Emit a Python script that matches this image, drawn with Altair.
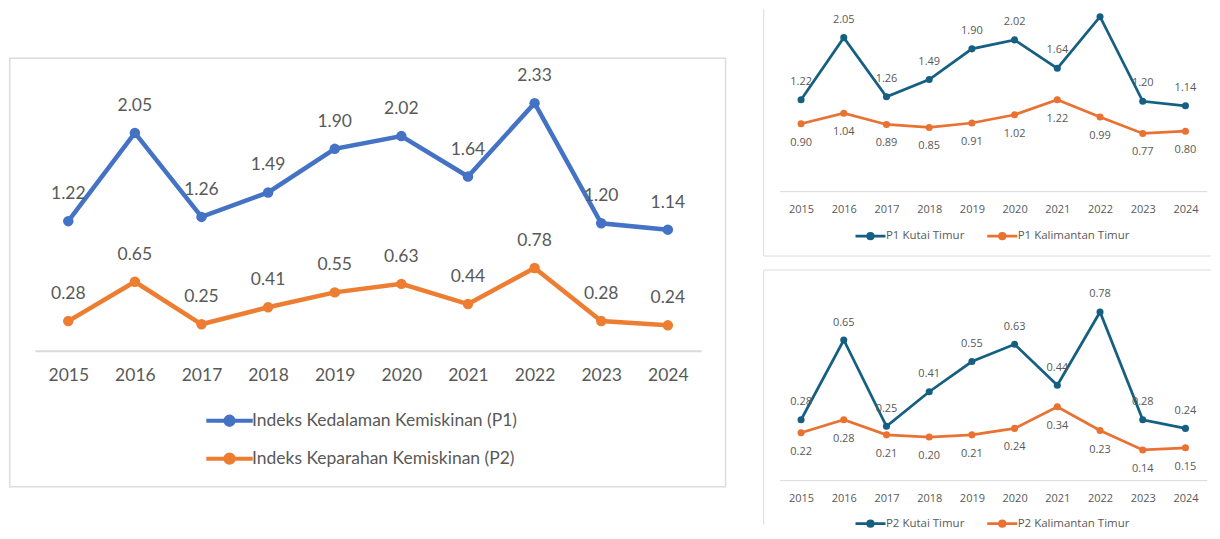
import altair as alt
import pandas as pd

# ---------------- data ----------------
years = ["2015", "2016", "2017", "2018", "2019", "2020", "2021", "2022", "2023", "2024"]
p1_kutim = [1.22, 2.05, 1.26, 1.49, 1.90, 2.02, 1.64, 2.33, 1.20, 1.14]
p2_kutim = [0.28, 0.65, 0.25, 0.41, 0.55, 0.63, 0.44, 0.78, 0.28, 0.24]
p1_kaltim = [0.90, 1.04, 0.89, 0.85, 0.91, 1.02, 1.22, 0.99, 0.77, 0.80]
p2_kaltim = [0.22, 0.28, 0.21, 0.20, 0.21, 0.24, 0.34, 0.23, 0.14, 0.15]

left_names = ["Indeks Kedalaman Kemiskinan (P1)", "Indeks Keparahan Kemiskinan (P2)"]
tr_names = ["P1 Kutai Timur", "P1 Kalimantan Timur"]
br_names = ["P2 Kutai Timur", "P2 Kalimantan Timur"]

left_colors = ["#4472C4", "#ED7D31"]
right_colors = ["#156082", "#E97132"]

GRAY = "#595959"
FRAME = "#DCDCDC"
AXIS = "#D9D9D9"


def long_df(names, series):
    rows = []
    for n, vals in zip(names, series):
        for y, v in zip(years, vals):
            rows.append({"year": y, "series": n, "value": v})
    return pd.DataFrame(rows)


def circle(r):
    return f"M{r},0A{r},{r},0,1,1,{-r},0A{r},{r},0,1,1,{r},0"


def legend_path(half, r_out, r_in):
    return f"M{-half},0H{half}" + circle(r_out) + circle(r_in)


def frame_layer(enc):
    return alt.Chart(alt.Data(values=[{}])).mark_rule(
        color=FRAME, strokeWidth=1
    ).encode(**enc)


def panel(df, names, colors, width, height, ymax, font, fs, line_w, pt_size,
          dys, legend, label_pad, domain_w, frames, px_per_unit):
    xenc = alt.X(
        "year:O",
        scale=alt.Scale(type="point", padding=0.5),
        axis=alt.Axis(title=None, labelAngle=0, ticks=False, grid=False,
                      domainColor=AXIS, domainWidth=domain_w,
                      labelColor=GRAY, labelFont=font, labelFontSize=fs,
                      labelPadding=label_pad),
    )
    yenc = alt.Y("value:Q", scale=alt.Scale(domain=[0, ymax], nice=False, zero=True),
                 axis=None)
    base = alt.Chart(df).encode(x=xenc, y=yenc)
    cscale = alt.Scale(domain=names, range=colors)
    line = base.mark_line(strokeWidth=line_w).encode(
        color=alt.Color("series:N", scale=cscale, legend=legend, sort=names)
    )
    pts = base.mark_point(filled=True, size=pt_size, opacity=1).encode(
        color=alt.Color("series:N", scale=cscale, legend=None, sort=names)
    )
    layers = list(frames) + [line, pts]
    for n, dy in zip(names, dys):
        # a label is shown only when it fits inside the plot area
        lim = ymax + (dy + 6) / px_per_unit
        layers.append(
            base.transform_filter(alt.datum.series == n)
            .transform_filter(alt.datum.value <= lim)
            .mark_text(dy=dy, font=font, fontSize=fs, color=GRAY, baseline="middle")
            .encode(text=alt.Text("value:Q", format=".2f"))
        )
    return alt.layer(*layers).properties(width=width, height=height)


# ---------------- left panel ----------------
left_legend = alt.Legend(
    orient="none", legendX=177.9, legendY=395, direction="vertical",
    title=None, symbolType=legend_path(1.55, 0.277, 0.1), symbolSize=900,
    symbolStrokeWidth=4, labelFont="Lato", labelFontSize=17.5,
    labelColor=GRAY, labelOffset=5.5, rowPadding=8, padding=0, labelLimit=500,
)
left = panel(
    long_df(left_names, [p1_kutim, p2_kutim]), left_names, left_colors,
    width=667.3, height=342, ymax=342 / 106.5, font="Lato", fs=17.5,
    line_w=4.5, pt_size=110, dys=[-27, -27], legend=left_legend,
    label_pad=16, domain_w=2, px_per_unit=106.5,
    frames=[
        alt.Chart(alt.Data(values=[{}])).mark_rect(
            fill="transparent", stroke=FRAME, strokeWidth=1.5
        ).encode(x=alt.value(-25.3), x2=alt.value(691.7),
                 y=alt.value(49), y2=alt.value(478))
    ],
)

# ---------------- right panels ----------------
def right_legend(ly):
    return alt.Legend(
        orient="none", legendX=79.4, legendY=ly, direction="horizontal",
        title=None, symbolType=legend_path(1.5, 0.275, 0.08), symbolSize=400,
        symbolStrokeWidth=2.75, labelFont="Open Sans", labelFontSize=11.5,
        labelColor=GRAY, labelOffset=4, columnPadding=17, padding=0,
        labelLimit=300,
    )


tr = panel(
    long_df(tr_names, [p1_kutim, p1_kaltim]), tr_names, right_colors,
    width=427.8, height=182, ymax=182 / 75.0, font="Open Sans", fs=11,
    line_w=2.75, pt_size=50, dys=[-18, 19], legend=right_legend(215.5),
    label_pad=12, domain_w=1, px_per_unit=75.0,
    frames=[
        frame_layer(dict(x=alt.value(-16.1), y=alt.value(0), y2=alt.value(247))),
        frame_layer(dict(x=alt.value(-16.1), x2=alt.value(432), y=alt.value(247))),
    ],
)

br = panel(
    long_df(br_names, [p2_kutim, p2_kaltim]), br_names, right_colors,
    width=427.8, height=210.5, ymax=210.5 / 216.0, font="Open Sans", fs=11,
    line_w=2.75, pt_size=50, dys=[-17.5, 19], legend=right_legend(242.5),
    label_pad=12, domain_w=1, px_per_unit=216.0,
    frames=[
        frame_layer(dict(x=alt.value(-16.1), x2=alt.value(432), y=alt.value(0))),
        frame_layer(dict(x=alt.value(-16.1), y=alt.value(0), y2=alt.value(255))),
    ],
)

right = (
    alt.vconcat(tr, br, spacing=12)
    .resolve_scale(color="independent")
    .resolve_legend(color="independent")
)

chart = (
    alt.hconcat(left, right, spacing=36)
    .resolve_scale(color="independent")
    .resolve_legend(color="independent")
    .properties(padding=0, background="white")
    .configure_view(stroke=None)
)

chart.save("out.html", embed_options={"renderer": "svg", "actions": False})
